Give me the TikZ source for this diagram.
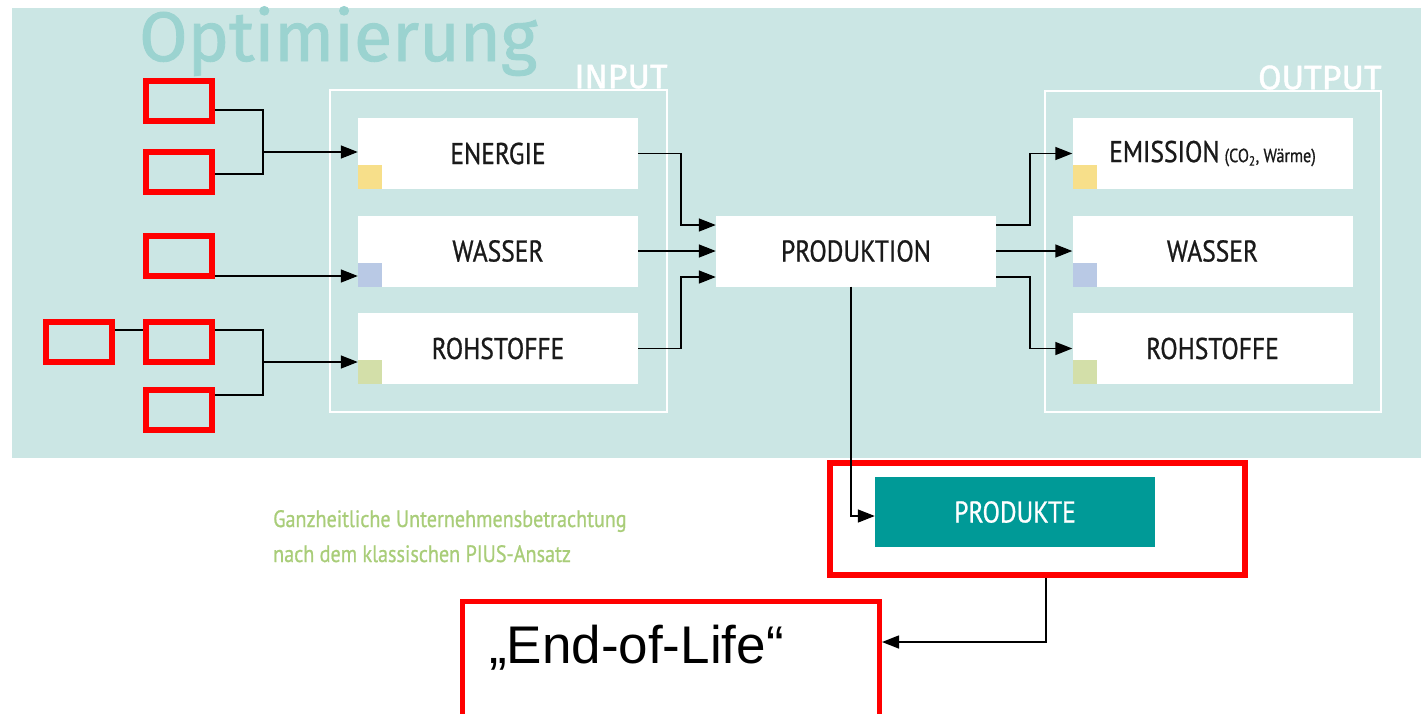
\documentclass[tikz,border=0pt]{standalone}
\usepackage{fontspec}
\usepackage{graphicx}
\usetikzlibrary{arrows.meta,calc}
\setmainfont{Liberation Sans}
\newfontfamily\condfont[FakeStretch=0.85,FakeBold=0.8]{PT Sans}
\newfontfamily\headfont[FakeBold=1.2]{Fira Sans}

\definecolor{bgteal}{HTML}{CBE6E4}
\definecolor{titleteal}{HTML}{9BD3D0}
\definecolor{prodteal}{HTML}{009A97}
\definecolor{markyellow}{HTML}{F7DF8A}
\definecolor{markblue}{HTML}{B9C9E5}
\definecolor{markgreen}{HTML}{D3DFA9}
\definecolor{captiongreen}{HTML}{A9CD79}
\definecolor{labeltext}{HTML}{1A1A1A}
\definecolor{alertred}{HTML}{FF0000}

\tikzset{
  stage/.style={fill=white, draw=none, minimum width=280pt, minimum height=71pt,
    inner sep=0pt, text=labeltext, font=\condfont\fontsize{30}{30}\selectfont},
  groupframe/.style={draw=white, line width=1.5pt, inner sep=0pt},
  grouplabel/.style={text=white, inner sep=0pt, font=\headfont\fontsize{34}{34}\selectfont},
  marker/.style={minimum size=24pt, inner sep=0pt, anchor=south west, draw=none},
  redbox/.style={draw=alertred, line width=6pt, minimum width=66pt, minimum height=40pt, inner sep=0pt},
  link/.style={line width=1.5pt, draw=black},
  arr/.style={link, -{Triangle[length=17pt,width=13pt]}},
  caption/.style={text=captiongreen, inner sep=0pt, anchor=base west,
    font=\condfont\fontsize{23.7}{23.7}\selectfont},
}

\begin{document}
\begin{tikzpicture}[x=1pt,y=-1pt]
\useasboundingbox (0,0) rectangle (1421,713);
\clip (0,0) rectangle (1421,713);

% optimisation area
\fill[bgteal] (12,8) rectangle (1421,458);
\node[anchor=base west, inner sep=0pt, text=titleteal,
  font=\headfont\fontsize{70}{70}\selectfont] (title) at (139,61) {Optimierung};

% input / output groups
\node[groupframe, minimum width=337pt, minimum height=322pt] (inframe) at (498.5,251) {};
\node[groupframe, minimum width=336pt, minimum height=321pt] (outframe) at (1213,251.5) {};
\node[grouplabel, anchor=base east] (inlabel) at ([yshift=1pt]inframe.north east) {INPUT};
\node[grouplabel, anchor=base east] (outlabel) at ([yshift=1pt]outframe.north east) {OUTPUT};

% input stages
\node[stage] (energie) at (498,153.5) {ENERGIE};
\node[stage] (wasserin) at (498,251) {WASSER};
\node[stage] (rohin) at (498,348.5) {ROHSTOFFE};
\node[marker, fill=markyellow] (mk1) at (energie.south west) {};
\node[marker, fill=markblue] (mk2) at (wasserin.south west) {};
\node[marker, fill=markgreen] (mk3) at (rohin.south west) {};

% production
\node[stage] (produktion) at (856,251) {PRODUKTION};

% output stages
\node[stage] (emission) at (1212.5,153.5)
  {EMISSION\,{\fontsize{19}{19}\selectfont(CO\textsubscript{2}, Wärme)}};
\node[stage] (wasserout) at (1212.5,251) {WASSER};
\node[stage] (rohout) at (1212.5,348.5) {ROHSTOFFE};
\node[marker, fill=markyellow] (mk4) at (emission.south west) {};
\node[marker, fill=markblue] (mk5) at (wasserout.south west) {};
\node[marker, fill=markgreen] (mk6) at (rohout.south west) {};

% products
\node[stage, fill=prodteal, text=white, minimum height=70pt] (produkte) at (1015,512) {PRODUKTE};
\node[redbox, minimum width=415pt, minimum height=112pt] (prodframe) at (1037.5,519) {};

% end of life
\node[redbox, line width=5pt, minimum width=417pt, minimum height=128pt] (eol) at (671,665.5) {};
\node[anchor=base west, inner sep=0pt, text=black, font=\fontsize{53}{53}\selectfont]
  (eoltext) at (489,663) {„End-of-Life“};

% caption
\node[caption] (cap1) at (273,527) {Ganzheitliche Unternehmensbetrachtung};
\node[caption] (cap2) at (273,562) {nach dem klassischen PIUS-Ansatz};

% placeholder boxes on the input side
\node[redbox] (r1) at (179,101) {};
\node[redbox] (r2) at (179,172) {};
\node[redbox] (r3) at (179,256) {};
\node[redbox] (r4) at (79,341.5) {};
\node[redbox] (r5) at (179,341.5) {};
\node[redbox] (r6) at (179,410) {};

% feeds into the input stages
\coordinate (j1) at (263,152);
\coordinate (j2) at (263,362);
\coordinate (w3) at ([yshift=-20pt]r3.east);
\draw[link] ([yshift=-9pt]r1.east) -| (j1);
\draw[link] ([yshift=-2pt]r2.east) -| (j1);
\draw[arr] (j1) -- (energie.west |- j1);
\draw[arr] (w3) -- (w3 -| wasserin.west);
\draw[link] ([yshift=11.5pt]r4.east) -- ([yshift=11.5pt]r5.west);
\draw[link] ([yshift=11.5pt]r5.east) -| (j2);
\draw[link] ([yshift=15pt]r6.east) -| (j2);
\draw[arr] (j2) -- (rohin.west |- j2);

% inputs into production
\draw[arr] (energie.east) -- ++(43,0) |- ([yshift=26pt]produktion.west);
\draw[arr] (wasserin.east) -- (produktion.west);
\draw[arr] (rohin.east) -- ++(43,0) |- ([yshift=-26pt]produktion.west);

% production into outputs
\draw[arr] ([yshift=26pt]produktion.east) -- ++(34,0) |- (emission.west);
\draw[arr] (produktion.east) -- (wasserout.west);
\draw[arr] ([yshift=-26pt]produktion.east) -- ++(34,0) |- (rohout.west);

% production into products, products to end of life
\draw[arr] ([xshift=-5pt]produktion.south) |- ([yshift=-4pt]produkte.west);
\draw[arr] ([xshift=8.5pt]prodframe.south) |- ([yshift=23.5pt]eol.east);
\end{tikzpicture}
\end{document}
